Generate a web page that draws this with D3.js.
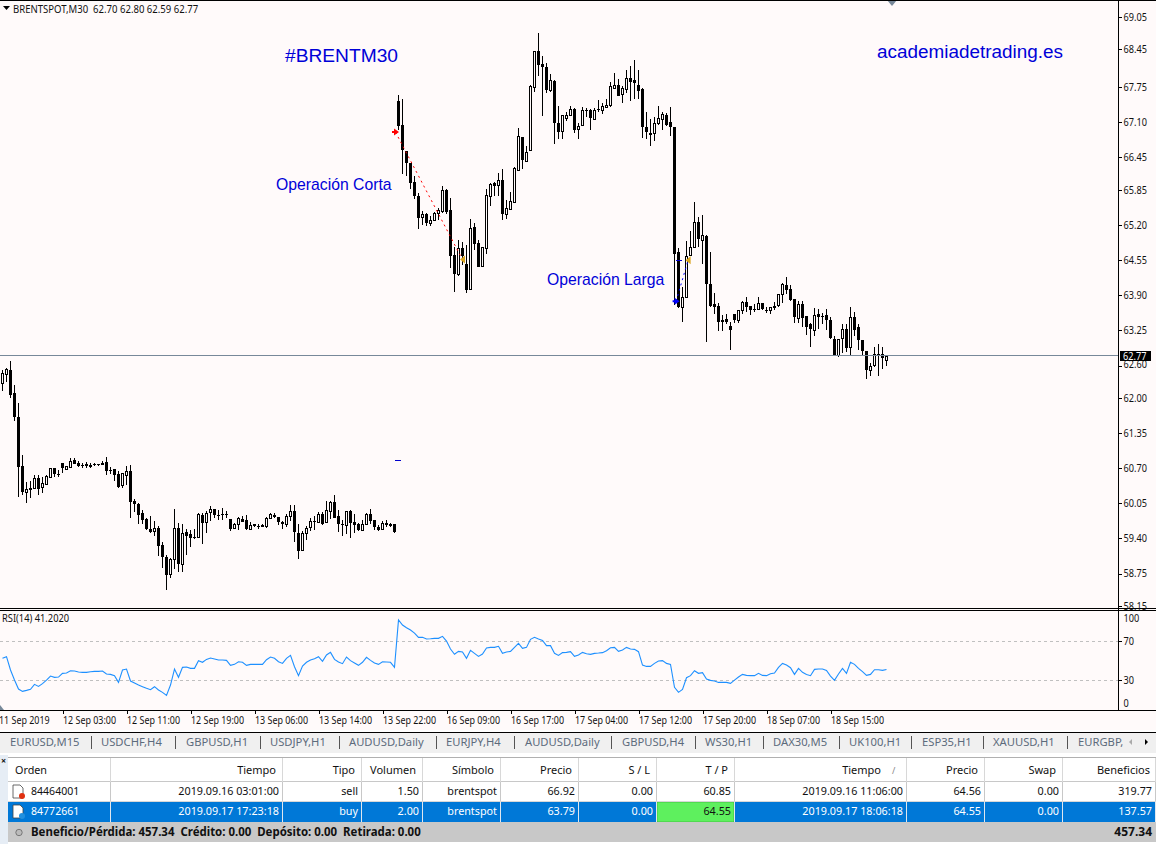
<!DOCTYPE html>
<html><head><meta charset="utf-8">
<style>html,body{margin:0;padding:0;background:#fffafa;overflow:hidden}svg{display:block}text{font-family:"Noto Sans",sans-serif}</style>
<script src="https://cdn.jsdelivr.net/npm/d3@7"></script>
</head><body><svg id="c" width="1156" height="844"></svg>
<script>
const opens=[62.28,62.43,62.52,62.09,61.64,60.74,60.25,60.33,60.32,60.52,
60.34,60.41,60.54,60.70,60.59,60.79,60.70,60.72,60.85,60.80,
60.76,60.77,60.76,60.78,60.77,60.80,60.82,60.67,60.68,60.59,
60.38,60.58,60.65,60.09,60.04,59.87,59.76,59.57,59.54,59.59,
59.28,59.06,58.75,59.01,59.59,58.94,59.52,59.48,59.42,59.43,
59.83,59.71,59.88,59.94,59.84,59.85,59.86,59.76,59.59,59.66,
59.76,59.74,59.57,59.66,59.63,59.65,59.62,59.78,59.83,59.79,
59.70,59.67,59.80,59.91,59.51,59.19,59.49,59.60,59.72,59.71,
59.85,59.69,59.91,60.07,59.81,59.67,59.65,59.91,59.70,59.66,
59.56,59.66,59.85,59.75,59.62,59.57,59.68,59.67,59.66,
67.50,67.05,66.57,66.35,65.99,65.74,65.34,65.40,65.24,65.29,65.41,
65.45,65.85,65.48,64.64,64.28,64.77,64.48,64.02,65.16,64.87,
64.43,64.76,65.73,65.97,65.93,66.03,65.39,65.50,65.63,66.22,
66.83,66.40,66.59,67.76,68.42,68.18,68.12,67.70,67.87,67.09,
66.93,67.17,67.22,67.35,66.98,67.04,67.32,67.32,67.17,67.34,
67.34,67.39,67.41,67.75,67.80,67.62,67.72,67.93,67.88,67.80,
67.71,67.01,66.91,66.91,67.08,67.17,67.24,67.10,67.01,64.70,
63.68,63.87,64.65,64.79,65.25,64.91,64.99,64.11,63.74,63.70,
63.44,63.46,63.33,63.55,63.43,63.62,63.77,63.70,63.64,63.64,
63.75,63.63,63.62,63.70,63.71,63.91,64.09,64.02,63.83,63.47,
63.74,63.52,63.36,63.26,63.55,63.52,63.53,63.44,63.10,62.80,
63.10,63.28,62.93,63.50,63.31,63.07,62.86,62.51,62.60,62.81,62.81,62.70];
const closes=[62.46,62.53,62.06,61.65,60.71,60.26,60.31,60.30,60.51,60.32,
60.42,60.56,60.70,60.58,60.58,60.70,60.75,60.84,60.78,60.74,
60.75,60.73,60.73,60.77,60.76,60.77,60.65,60.65,60.56,60.35,
60.61,60.65,60.08,60.03,59.84,59.74,59.58,59.52,59.59,59.26,
59.06,58.72,59.02,59.59,58.93,59.51,59.45,59.41,59.41,59.85,
59.69,59.88,59.94,59.82,59.83,59.83,59.85,59.58,59.66,59.77,
59.71,59.57,59.64,59.62,59.62,59.62,59.77,59.85,59.80,59.69,
59.67,59.81,59.90,59.53,59.17,59.50,59.59,59.72,59.71,59.85,
59.67,59.92,60.07,59.78,59.67,59.65,59.90,59.69,59.65,59.55,
59.67,59.85,59.72,59.62,59.57,59.69,59.65,59.63,59.51,
67.03,66.58,66.34,65.98,65.73,65.34,65.40,65.24,65.29,65.42,65.47,
65.84,65.44,64.63,64.28,64.77,64.63,64.00,65.14,64.85,64.43,
64.79,65.75,65.96,65.91,66.03,65.41,65.51,65.64,66.25,66.84,
66.41,66.56,67.77,68.43,68.17,68.13,67.70,67.88,67.09,66.93,
67.23,67.23,67.34,66.96,67.04,67.32,67.30,67.18,67.33,67.33,
67.41,67.43,67.77,67.80,67.59,67.73,67.93,67.85,67.82,67.69,
67.00,66.91,66.88,67.09,67.18,67.26,67.06,67.00,64.66,63.68,
63.86,64.63,64.80,65.25,64.94,65.01,64.10,63.71,63.69,63.41,
63.41,63.41,63.26,63.43,63.62,63.77,63.68,63.63,63.62,63.75,
63.63,63.62,63.68,63.67,63.92,64.10,64.00,63.82,63.49,63.73,
63.49,63.32,63.26,63.53,63.50,63.51,63.43,63.10,62.79,63.09,
63.27,62.93,63.49,63.26,63.07,62.86,62.51,62.59,62.81,62.80,62.73,62.77];
const highs=[62.52,62.55,62.68,62.24,61.90,60.95,60.45,60.47,60.57,60.58,
60.53,60.57,60.70,60.70,60.67,60.79,60.75,60.89,60.88,60.83,
60.80,60.82,60.80,60.80,60.78,60.83,60.91,60.73,60.68,60.64,
60.62,60.74,60.76,60.13,60.05,59.93,59.77,59.82,59.72,59.63,
59.34,59.10,59.03,59.95,59.69,59.66,59.57,59.56,59.57,59.87,
59.88,59.91,60.00,59.94,59.93,59.96,59.90,59.76,59.68,59.79,
59.82,59.83,59.70,59.66,59.66,59.67,59.79,59.88,59.88,59.79,
59.72,59.85,60.01,60.01,59.67,59.54,59.63,59.77,59.82,59.89,
59.89,60.09,60.09,60.20,59.93,59.74,59.91,59.93,59.85,59.69,
59.74,59.88,59.94,59.75,59.65,59.72,59.74,59.68,59.66,
67.61,67.53,66.57,66.35,66.11,65.79,65.46,65.42,65.37,65.44,65.51,
65.92,65.86,65.70,64.80,64.92,64.89,64.83,65.31,65.23,64.92,
64.80,65.87,65.97,65.99,66.16,66.24,65.66,65.82,66.27,67.00,
66.83,66.66,67.79,68.43,68.75,68.32,68.19,67.99,67.88,67.40,
67.24,67.30,67.40,67.36,67.09,67.38,67.36,67.34,67.36,67.51,
67.46,67.53,67.85,68.01,67.91,67.77,68.07,68.15,68.25,68.07,
67.73,67.30,67.17,67.20,67.40,67.30,67.27,67.38,67.01,64.77,
64.06,64.90,65.09,65.62,65.34,65.39,65.01,64.70,63.94,63.75,
63.53,63.55,63.41,63.55,63.62,63.79,63.86,63.70,63.74,63.86,
63.75,63.69,63.68,63.78,63.92,64.12,64.23,64.09,63.83,63.79,
63.80,63.52,63.38,63.67,63.64,63.58,63.64,63.50,63.14,63.10,
63.36,63.37,63.68,63.60,63.36,63.07,62.86,62.64,62.95,62.99,62.95,62.80];
const lows=[62.12,62.30,61.99,61.58,60.16,60.20,60.06,60.14,60.32,60.21,
60.25,60.41,60.53,60.54,60.54,60.61,60.67,60.72,60.77,60.72,
60.70,60.70,60.71,60.74,60.74,60.76,60.58,60.59,60.46,60.33,
60.33,60.38,59.78,59.89,59.67,59.66,59.56,59.50,59.45,59.08,
58.85,58.45,58.67,58.84,58.77,58.78,59.10,59.24,59.39,59.42,
59.30,59.51,59.72,59.77,59.74,59.75,59.77,59.54,59.57,59.56,
59.70,59.56,59.56,59.61,59.58,59.61,59.60,59.76,59.77,59.65,
59.57,59.62,59.72,59.33,59.02,59.18,59.37,59.54,59.56,59.70,
59.65,59.68,59.76,59.77,59.52,59.45,59.48,59.41,59.51,59.53,
59.56,59.65,59.67,59.56,59.53,59.56,59.62,59.61,59.50,
66.96,66.14,66.10,65.87,65.68,65.13,65.20,65.18,65.18,65.27,65.29,
65.43,65.41,64.40,63.96,64.26,64.46,63.95,64.02,64.74,64.42,
64.42,64.66,65.56,65.73,65.74,65.29,65.31,65.49,65.63,66.21,
66.24,66.39,66.58,67.66,67.96,67.22,67.64,67.67,66.70,66.80,
66.80,67.13,67.21,66.90,66.80,67.03,67.20,66.96,67.16,67.30,
67.25,67.38,67.39,67.72,67.58,67.45,67.64,67.50,67.54,67.54,
66.82,66.80,66.66,66.76,67.06,66.96,67.04,66.84,63.72,63.66,
63.41,63.86,64.65,64.78,64.80,64.48,63.04,63.69,63.56,63.23,
63.24,63.37,62.88,63.39,63.39,63.56,63.60,63.54,63.59,63.62,
63.62,63.57,63.55,63.63,63.69,63.75,63.92,63.80,63.39,63.38,
63.31,63.17,62.95,63.15,63.28,63.37,63.25,63.09,62.79,62.75,
62.84,62.85,62.77,63.15,62.89,62.80,62.36,62.41,62.58,62.41,62.53,62.59];
const rsi=[52.6,54.3,40.6,30.3,21.1,18.7,19.7,20.8,25.9,23.8,
26.6,30.3,34.4,33.1,33.4,37.2,37.5,39.9,39.6,38.5,
38.2,38.2,38.9,39.2,39.2,39.6,36.5,36.1,34.8,27.9,
40.6,41.6,29.3,27.2,25.2,23.5,21.8,20.4,23.5,20.1,
17.7,14.6,25.2,41.6,33.1,43.3,43.7,42.3,42.3,50.2,
48.5,51.5,52.9,51.9,50.8,50.8,50.5,45.4,46.4,49.1,
48.5,45.4,46.4,46.4,46.4,46.4,51.2,53.9,52.6,49.1,
47.4,52.6,55.6,44.0,34.8,44.7,48.5,50.8,52.2,54.3,
49.5,56.0,58.7,51.5,48.8,47.1,53.9,50.2,47.8,45.4,
48.5,53.6,50.5,47.8,46.4,49.1,48.8,48.5,43.3,91.9,
86.8,84.0,81.6,78.5,74.1,74.1,72.4,72.7,73.1,73.1,
75.1,70.3,62.1,56.7,59.7,59.1,52.6,60.8,57.7,54.6,
57.0,63.2,63.8,63.8,64.9,57.7,59.1,59.7,63.8,68.0,
62.8,63.8,72.1,74.1,72.4,71.0,65.6,65.6,57.7,55.6,
58.4,58.7,59.4,54.6,56.0,58.7,57.3,56.7,57.7,58.0,
58.4,60.4,63.5,63.8,59.7,61.1,63.8,62.1,61.8,59.4,
45.7,44.3,44.3,47.4,49.8,50.2,47.4,46.4,22.8,17.7,
20.8,32.7,34.8,39.9,37.2,37.9,31.4,30.0,29.3,27.9,
27.9,27.9,26.9,30.3,33.4,36.1,35.1,34.8,34.8,37.2,
35.1,34.8,36.8,37.5,43.3,47.4,45.7,43.0,36.1,42.3,
38.2,36.1,34.8,41.3,41.6,41.6,40.2,34.4,30.0,36.5,
42.3,37.2,48.5,46.4,42.3,38.9,35.1,36.1,40.9,40.9,40.2,41.2];
const priceTicks=[69.05,68.45,67.75,67.10,66.45,65.85,65.20,64.55,63.90,63.25,62.60,62.00,61.35,60.70,60.05,59.40,58.75,58.15];
const rsiTicks=[100,70,30,0];
const rsiLevels=[70,30];
const timeIdx=[-1,15,31,47,63,79,95,111,127,143,159,175,191,207];
const timeLabels=["11 Sep 2019","12 Sep 03:00","12 Sep 11:00","12 Sep 19:00","13 Sep 06:00","13 Sep 14:00","13 Sep 22:00","16 Sep 09:00","16 Sep 17:00","17 Sep 04:00","17 Sep 12:00","17 Sep 20:00","18 Sep 07:00","18 Sep 15:00"];
const lastPrice=62.77;
const sellTrade=[98.25,66.92,115,64.56];
const buyTrade=[168.4,63.79,171.4,64.55];
const takeProfits=[[98.75,60.85],[169,64.55]];
const tabs=["EURUSD,M15","USDCHF,H4","GBPUSD,H1","USDJPY,H1","AUDUSD,Daily","EURJPY,H4","AUDUSD,Daily","GBPUSD,H4","WS30,H1","DAX30,M5","UK100,H1","ESP35,H1","XAUUSD,H1","EURGBP,"];
const headers=["Orden","Tiempo","Tipo","Volumen","Símbolo","Precio","S / L","T / P","Tiempo","Precio","Swap","Beneficios"];
const row1=["84464001","2019.09.16 03:01:00","sell","1.50","brentspot","66.92","0.00","60.85","2019.09.16 11:06:00","64.56","0.00","319.77"];
const row2=["84772661","2019.09.17 17:23:18","buy","2.00","brentspot","63.79","0.00","64.55","2019.09.17 18:06:18","64.55","0.00","137.57"];
const footerText="Beneficio/Pérdida: 457.34  Crédito: 0.00  Depósito: 0.00  Retirada: 0.00";
const footerTotal="457.34";

// layout constants
const BG="#fffafa",AX=1118;
const tabX=[10,101,186,270,349,446,525,622,705,773,849,922,993,1078];
const tabSep=[91,175,260,339,436,514,611,695,763,839,911,983,1067];
const colEdge=[10,110,282,361,422,500,578,656,734,906,984,1062,1155];

const svg=d3.select("#c");
svg.append("rect").attr("width",1156).attr("height",844).attr("fill",BG);
const x=d3.scaleLinear().domain([0,221]).range([2.5,886.5]);
const y=d3.scaleLinear().domain([58.15,69.05]).range([606,17]);
const yr=d3.scaleLinear().domain([0,100]).range([709.6,612.1]);

function fit(t,hs){t.each(function(){const n=this.getComputedTextLength();d3.select(this).attr("textLength",n*hs).attr("lengthAdjust","spacingAndGlyphs");});return t;}
function T(g,str,px,py,o={}){
  const t=g.append("text").attr("x",px).attr("y",py).text(str)
   .attr("font-size",o.s||10.5).attr("fill",o.f||"#111").attr("text-anchor",o.a||"start")
   .attr("font-weight",o.w||"normal").style("white-space","pre");
  if(o.fam)t.style("font-family",o.fam);
  if(o.hs)fit(t,o.hs);
  return t;
}
// candles
const chart=svg.append("g").attr("shape-rendering","crispEdges");
const candles=d3.range(opens.length);
chart.selectAll("line.w").data(candles).join("line").attr("class","w")
 .attr("x1",i=>x(i)).attr("x2",i=>x(i)).attr("y1",i=>y(highs[i])).attr("y2",i=>y(lows[i]))
 .attr("stroke","#000").attr("stroke-width",1);
chart.selectAll("rect.b").data(candles).join("rect").attr("class","b")
 .attr("x",i=>closes[i]>opens[i]?x(i)-1:x(i)-1.5)
 .attr("width",i=>closes[i]>opens[i]?2:3)
 .attr("y",i=>Math.round(y(Math.max(opens[i],closes[i])))+(closes[i]>opens[i]?.5:0))
 .attr("height",i=>Math.max(1,Math.round(Math.abs(y(opens[i])-y(closes[i])))))
 .attr("fill",i=>closes[i]>opens[i]?BG:"#000")
 .attr("stroke",i=>closes[i]>opens[i]?"#000":"none");
// current price line
const lastY=Math.floor(y(lastPrice))-1;
svg.append("line").attr("x1",0).attr("x2",AX).attr("y1",lastY+.5).attr("y2",lastY+.5).attr("stroke","#778899").attr("shape-rendering","crispEdges");
// trades
function trade(t,col){
  svg.append("line").attr("x1",x(t[0])).attr("y1",y(t[1])).attr("x2",x(t[2])).attr("y2",y(t[3]))
    .attr("stroke",col).attr("stroke-width",1).attr("stroke-dasharray","2 3.5");
  const a=x(t[0]),b=y(t[1]);
  svg.append("path").attr("d",`M${a-3.5},${b-1}h2v-2.5l5,3.5l-5,3.5v-2.5h-2z`).attr("fill",col);
  const c=x(t[2]),e=y(t[3]);
  svg.append("path").attr("d",`M${c-2.5},${e}l5,-4v8z`).attr("fill","#daa520");
}
trade(sellTrade,"#f00");trade(buyTrade,"#00f");
takeProfits.forEach(p=>svg.append("line").attr("x1",x(p[0])-3).attr("x2",x(p[0])+3).attr("y1",y(p[1])).attr("y2",y(p[1])).attr("stroke","#0000cd").attr("shape-rendering","crispEdges"));
// annotations
const ann="#0000d8", L="'Liberation Sans',Arial,sans-serif";
T(svg,"#BRENTM30",285,62,{s:19.2,f:ann,fam:L});
T(svg,"academiadetrading.es",877,58,{s:18.9,f:ann,fam:L});
T(svg,"Operación Corta",276,190,{s:15.75,f:ann,fam:L});
T(svg,"Operación Larga",547,285,{s:15.75,f:ann,fam:L});
// title
svg.append("path").attr("d","M3,6h7l-3.5,4z").attr("fill","#000");
T(svg,"BRENTSPOT,M30  62.70 62.80 62.59 62.77",13,13,{s:10,hs:.955});
svg.append("path").attr("d","M887,0h10l-5,6z").attr("fill","#778899");
// frame
const F=svg.append("g").attr("shape-rendering","crispEdges");
F.append("line").attr("x1",0).attr("x2",1156).attr("y1",.5).attr("y2",.5).attr("stroke","#000");
F.append("line").attr("x1",0).attr("x2",1156).attr("y1",608.5).attr("y2",608.5).attr("stroke","#000");
F.append("line").attr("x1",0).attr("x2",1156).attr("y1",610.5).attr("y2",610.5).attr("stroke","#000");
F.append("line").attr("x1",0).attr("x2",1156).attr("y1",710.5).attr("y2",710.5).attr("stroke","#000");
F.append("line").attr("x1",AX+.5).attr("x2",AX+.5).attr("y1",0).attr("y2",711).attr("stroke","#000");
// price axis
const pa=svg.append("g").attr("transform",`translate(${AX+.5},0)`).call(d3.axisRight(y).tickValues(priceTicks).tickFormat(d3.format(".2f")).tickSize(3).tickPadding(2));
pa.select(".domain").remove();pa.selectAll("text").attr("font-size",10.4).attr("fill","#111").style("font-family","'Noto Sans'");
fit(pa.selectAll("text"),.88);
pa.selectAll("text").attr("y",d=>d===62.60?-1:null);
pa.selectAll("line").attr("shape-rendering","crispEdges");
// last price tag
svg.append("rect").attr("x",1120).attr("y",351).attr("width",31).attr("height",10).attr("fill","#000");
T(svg,lastPrice.toFixed(2),1123,359.5,{s:10.4,f:"#fff",hs:.88});
// RSI
const rsiG=svg.append("g");
rsiLevels.forEach(v=>rsiG.append("line").attr("x1",0).attr("x2",AX).attr("y1",Math.round(yr(v))+.5).attr("y2",Math.round(yr(v))+.5).attr("stroke","#c0c0c0").attr("stroke-dasharray","3 3").attr("shape-rendering","crispEdges"));
rsiG.append("path").datum(rsi).attr("fill","none").attr("stroke","#1e90ff").attr("stroke-width",1.1)
 .attr("d",d3.line().x((d,i)=>x(i)).y(d=>yr(d)));
T(svg,"RSI(14) 41.2020",2,622,{s:10,hs:.93});
const ra=svg.append("g").attr("transform",`translate(${AX+.5},0)`).call(d3.axisRight(yr).tickValues(rsiTicks).tickSize(3).tickPadding(2));
ra.select(".domain").remove();
ra.selectAll("text").attr("font-size",10.4).attr("fill","#111").style("font-family","'Noto Sans'")
  .attr("transform",d=>d===100?"translate(0,6)":d===0?"translate(0,-6)":null);
fit(ra.selectAll("text"),.88);
ra.selectAll("line").attr("shape-rendering","crispEdges");
ra.selectAll("g.tick").filter(d=>d===100||d===0).select("line").remove();
svg.append("path").attr("d","M0,705l4,5h-4z").attr("fill","#778899");
// time axis
const ta=svg.append("g").attr("transform","translate(0,710.5)").call(d3.axisBottom(x).tickValues(timeIdx).tickFormat((d,i)=>timeLabels[i]).tickSize(3).tickPadding(3));
ta.select(".domain").remove();
ta.selectAll("line").attr("shape-rendering","crispEdges");
ta.selectAll("text").attr("text-anchor","start").attr("font-size",10.2).attr("fill","#111").style("font-family","'Noto Sans'");
fit(ta.selectAll("text"),.875);
// lower panel
const P=svg.append("g");
P.append("rect").attr("y",730).attr("width",1156).attr("height",114).attr("fill","#fff");
P.append("rect").attr("y",733).attr("width",1156).attr("height",20).attr("fill","#f0f0f0");
P.append("rect").attr("y",732).attr("width",1156).attr("height",1).attr("fill","#000");
tabs.forEach((t,i)=>T(P,t,tabX[i],746,{s:11,f:"#5c6b7c",hs:1.02}));
P.selectAll("rect.sep").data(tabSep).join("rect").attr("class","sep").attr("x",d=>d).attr("y",736).attr("width",1).attr("height",13).attr("fill","#555");
P.append("path").attr("d","M1132,739v6l-3,-3z").attr("fill","#aaa");
P.append("path").attr("d","M1145,739v6l3,-3z").attr("fill","#000");
P.append("rect").attr("y",753).attr("width",1156).attr("height",3).attr("fill","#fff");
P.append("rect").attr("y",755).attr("width",8).attr("height",89).attr("fill","#e6edf5");
T(P,"×",1,764,{s:9,f:"#111",w:"bold"});
P.append("rect").attr("x",8).attr("y",757).attr("width",1148).attr("height",1).attr("fill","#b0b0b0");
P.append("rect").attr("x",8).attr("y",781).attr("width",1148).attr("height",1).attr("fill","#c8c8c8");
// header row
headers.forEach((h,i)=>{
  if(i===0)T(P,h,15,774,{s:11,hs:.98});
  else T(P,h,colEdge[i+1]-(i===8?25:i===11?5:6),774,{s:11,a:"end",hs:1});
});
T(P,"/",892,774,{s:9,f:"#888"});
// rows
P.append("rect").attr("x",8).attr("y",802).attr("width",1148).attr("height",20).attr("fill","#0078d7");
P.append("rect").attr("x",657).attr("y",802).attr("width",77).attr("height",20).attr("fill","#5ef05e").attr("stroke","#2a9a2a").attr("stroke-width",.5);
colEdge.forEach((e,i)=>{
  if(i===0)return;
  P.append("rect").attr("x",e).attr("y",758).attr("width",1).attr("height",24).attr("fill","#d8d8d8");
  P.append("rect").attr("x",e).attr("y",782).attr("width",1).attr("height",20).attr("fill","#c8c8c8");
  P.append("rect").attr("x",e).attr("y",802).attr("width",1).attr("height",20).attr("fill","#dfe7ef");
});
P.append("rect").attr("x",8).attr("y",801).attr("width",1148).attr("height",1).attr("fill","#d8d8d8");
[[row1,795,"#111","#e03010",791],[row2,815,"#fff","#2090e0",811]].forEach(([r,yy,col,dot,iy],ri)=>{
  r.forEach((v,i)=>{
    if(i===0)T(P,v,31,yy,{s:11,f:col,hs:.96});
    else T(P,v,colEdge[i+1]-3,yy,{s:11,f:(ri===1&&i===7)?"#111":col,a:"end",hs:.98});
  });
  P.append("path").attr("d",`M13,${iy-6}h7l3,3v10h-10z`).attr("fill","#fff").attr("stroke","#444").attr("stroke-width",.8);
  P.append("circle").attr("cx",22).attr("cy",iy+5).attr("r",3).attr("fill",dot);
});
// footer
P.append("rect").attr("x",8).attr("y",822).attr("width",1148).attr("height",20).attr("fill","#c8c8c8");
P.append("circle").attr("cx",19).attr("cy",832.5).attr("r",3.2).attr("fill","#bbb").attr("stroke","#777");
T(P,footerText,31,836,{s:11.5,w:"bold",hs:.995});
T(P,footerTotal,1152,836,{s:12,w:"bold",a:"end",hs:1});
</script></body></html>
